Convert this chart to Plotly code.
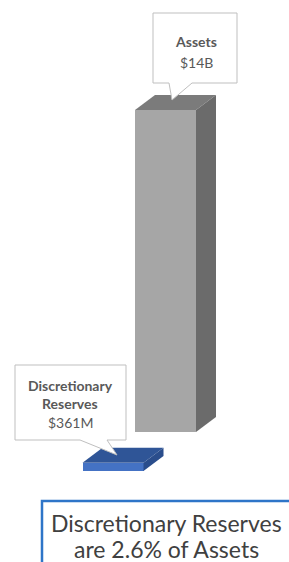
import plotly.graph_objects as go

# ---- data ----
categories = ["Discretionary Reserves", "Assets"]
values_b = [0.361, 14.0]            # billions
value_labels = ["$361M", "$14B"]
summary_lines = ["Discretionary Reserves", "are 2.6% of Assets"]

# ---- layout helpers (positions / styles) ----
W, H = 289, 562
PX_PER_B = 23.0          # pixels per billion
BASE_PY = 471            # pixel row of value 0 for the front row
def Y(py):               # pixel row -> data y (billions)
    return (BASE_PY - py) / PX_PER_B

rows = [0, 1]                       # depth rows (front, back)
row_dx, row_dy = 52.5, 39 / PX_PER_B
front_cx = 113
bar_w = 61
face_dx, face_dy = 20, 15 / PX_PER_B

front_cols = ["#4472C4", "#A6A6A6"]
top_cols = ["#2F5597", "#7B7B7B"]
side_cols = ["#2A4D8C", "#6B6B6B"]

fig = go.Figure()
for i, (cat, v) in enumerate(zip(categories, values_b)):
    cx = front_cx + rows[i] * row_dx
    base = rows[i] * row_dy
    x0, x1 = cx - bar_w / 2, cx + bar_w / 2
    top = base + v
    # front face
    fig.add_trace(go.Bar(x=[cx], y=[v], base=[base], width=[bar_w],
                         marker=dict(color=front_cols[i], line=dict(width=0)),
                         hoverinfo="skip", showlegend=False, name=cat))
    # top face
    fig.add_trace(go.Scatter(
        x=[x0, x1, x1 + face_dx, x0 + face_dx, x0],
        y=[top, top, top + face_dy, top + face_dy, top],
        fill="toself", fillcolor=top_cols[i], mode="lines",
        line=dict(width=0, color=top_cols[i]), hoverinfo="skip", showlegend=False))
    # side face
    fig.add_trace(go.Scatter(
        x=[x1, x1 + face_dx, x1 + face_dx, x1, x1],
        y=[base, base + face_dy, top + face_dy, top, base],
        fill="toself", fillcolor=side_cols[i], mode="lines",
        line=dict(width=0, color=side_cols[i]), hoverinfo="skip", showlegend=False))

def callout(box, base_l, base_r, tip):
    x0, y0, x1, y1 = box
    pts = [(x0, y0), (x1, y0), (x1, y1), (base_r, y1), tip, (base_l, y1), (x0, y1)]
    d = "M " + " L ".join(f"{px},{Y(py)}" for px, py in pts) + " Z"
    fig.add_shape(type="path", path=d, xref="x", yref="y",
                  line=dict(color="#BFBFBF", width=1), fillcolor="white", layer="above")

callout((153, 13, 237, 83), 169, 192, (172, 100))
callout((15, 365, 126, 440), 80, 107, (117, 455))

lab_font = dict(family="Lato, Carlito, sans-serif", size=14, color="#595959")
fig.add_annotation(x=196, y=Y(41), text="<b>Assets</b>", showarrow=False, font=lab_font)
fig.add_annotation(x=196, y=Y(62), text=value_labels[1], showarrow=False, font=lab_font)
fig.add_annotation(x=70, y=Y(385), text="<b>Discretionary</b>", showarrow=False, font=lab_font)
fig.add_annotation(x=70, y=Y(403), text="<b>Reserves</b>", showarrow=False, font=lab_font)
fig.add_annotation(x=70, y=Y(422), text=value_labels[0], showarrow=False, font=lab_font)

# summary box
fig.add_shape(type="rect", x0=42, x1=W + 10, y0=Y(501), y1=Y(H + 10), xref="x", yref="y",
              line=dict(color="#2E75C8", width=2.5), fillcolor="rgba(0,0,0,0)", layer="above")
sum_font = dict(family="Lato, Carlito, sans-serif", size=23, color="#404040")
fig.add_annotation(x=166, y=Y(523), text=summary_lines[0], showarrow=False, font=sum_font)
fig.add_annotation(x=166, y=Y(549), text=summary_lines[1], showarrow=False, font=sum_font)

fig.update_layout(
    width=W, height=H, margin=dict(l=0, r=0, t=0, b=0),
    paper_bgcolor="white", plot_bgcolor="white", bargap=0,
    xaxis=dict(range=[0, W], visible=False, fixedrange=True),
    yaxis=dict(range=[Y(H), Y(0)], visible=False, fixedrange=True),
)
fig.write_html("out.html", config={"displayModeBar": False})

# remove the browser's default body margin so the figure sits at the page origin
with open("out.html", encoding="utf-8") as f:
    html = f.read()
html = html.replace("<body>", '<body style="margin:0;overflow:hidden">', 1)
with open("out.html", "w", encoding="utf-8") as f:
    f.write(html)
